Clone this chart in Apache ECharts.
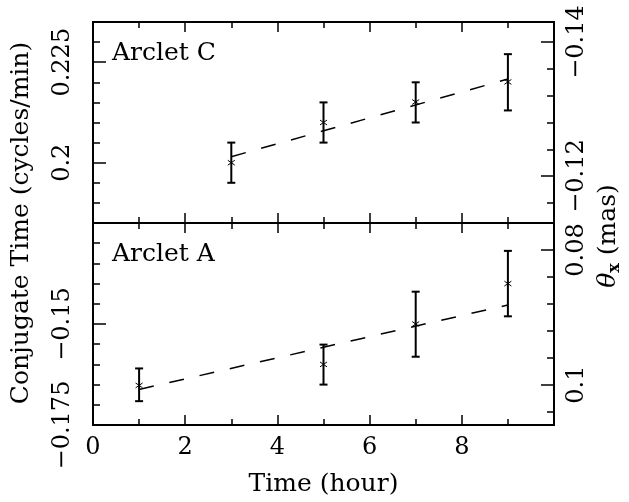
<!DOCTYPE html>
<html><head><meta charset="utf-8">
<script src="https://cdn.jsdelivr.net/npm/echarts@6/dist/echarts.min.js"></script>
<style>html,body{margin:0;padding:0;background:#fff}#c{width:629px;height:502px}</style>
</head><body><div id="c"></div>
<script>
// ---- Data ----
const hoursC = [3, 5, 7, 9];               // Arclet C
const valuesC = [0.2000, 0.2100, 0.2151, 0.2201];
const lowC = [0.1950, 0.2050, 0.2100, 0.2130];
const highC = [0.2050, 0.2150, 0.2200, 0.2270];
const fitXC = [3, 9];
const fitYC = [0.2015, 0.2208];

const hoursA = [1, 5, 7, 9];               // Arclet A
const valuesA = [-0.1652, -0.1600, -0.1500, -0.1400];
const lowA = [-0.1691, -0.1650, -0.1581, -0.1481];
const highA = [-0.1610, -0.1551, -0.1420, -0.1319];
const fitXA = [1, 9];
const fitYA = [-0.1662, -0.1453];

// ---- Tick labels ----
const xLabels = [0, 2, 4, 6, 8];
const cLeftMajor = [0.2, 0.225];
const cLeftMinor = [0.19, 0.195, 0.205, 0.21, 0.215, 0.22, 0.23];
const cRightMajor = [-0.14, -0.12];
const cRightMinor = [-0.136, -0.132, -0.128, -0.124, -0.116];
const aLeftMajor = [-0.175, -0.15];
const aLeftMinor = [-0.17, -0.165, -0.16, -0.155, -0.145, -0.14, -0.135, -0.13];
const aRightMajor = [0.08, 0.1];
const aRightMinor = [0.084, 0.088, 0.092, 0.096, 0.104];

const FONT = '"DejaVu Serif", serif';
const BLACK = '#000';
const TICKFS = 24, NAMEFS = 25;
const fmt = v => String(+(+v).toFixed(4)).replace('-', '\u2212');

function xAxisDef(grid, pos, showLabels) {
  return {
    type: 'value', gridIndex: grid, position: pos, min: 0, max: 10, interval: 2,
    axisLine: { show: false },
    axisTick: { show: true, inside: true, length: 10, lineStyle: { color: BLACK, width: 1.5 } },
    minorTick: { show: true, splitNumber: 2, length: 6, lineStyle: { color: BLACK, width: 1.5 } },
    splitLine: { show: false }, minorSplitLine: { show: false },
    axisLabel: showLabels ? { show: true, customValues: xLabels, formatter: fmt, color: BLACK,
      fontFamily: FONT, fontSize: TICKFS, margin: 11 } : { show: false },
    name: showLabels ? 'Time (hour)' : '', nameLocation: 'middle', nameGap: 47,
    nameTextStyle: { fontFamily: FONT, fontSize: NAMEFS, color: BLACK }
  };
}
function yAxisDef(grid, pos, min, max, inverse, ticks, len, labels, margin) {
  return {
    type: 'value', gridIndex: grid, position: pos, min: min, max: max, inverse: inverse,
    axisLine: { show: false },
    axisTick: { show: true, inside: true, length: len, customValues: ticks,
      lineStyle: { color: BLACK, width: 1.5 } },
    splitLine: { show: false },
    axisLabel: labels ? { show: true, customValues: labels, formatter: fmt, rotate: 90,
      color: BLACK, fontFamily: FONT, fontSize: TICKFS, margin: margin } : { show: false }
  };
}
function errSeries(xi, yi, xs, vs, lo, hi) {
  return {
    type: 'custom', xAxisIndex: xi, yAxisIndex: yi, z: 5,
    data: xs.map((x, i) => [x, vs[i], lo[i], hi[i]]),
    encode: { x: 0, y: 1 },
    renderItem: function (params, api) {
      const x = api.value(0);
      const pV = api.coord([x, api.value(1)]);
      const pL = api.coord([x, api.value(2)]);
      const pH = api.coord([x, api.value(3)]);
      const cap = 4, m = 3.5;
      const st = { stroke: BLACK, lineWidth: 2 };
      const sm = { stroke: BLACK, lineWidth: 1 };
      return { type: 'group', children: [
        { type: 'line', shape: { x1: pL[0], y1: pL[1], x2: pH[0], y2: pH[1] }, style: st },
        { type: 'line', shape: { x1: pL[0] - cap, y1: pL[1], x2: pL[0] + cap, y2: pL[1] }, style: st },
        { type: 'line', shape: { x1: pH[0] - cap, y1: pH[1], x2: pH[0] + cap, y2: pH[1] }, style: st },
        { type: 'line', shape: { x1: pV[0] - m, y1: pV[1] - m * 0.7, x2: pV[0] + m, y2: pV[1] + m * 0.7 }, style: sm },
        { type: 'line', shape: { x1: pV[0] - m, y1: pV[1] + m * 0.7, x2: pV[0] + m, y2: pV[1] - m * 0.7 }, style: sm }
      ] };
    }
  };
}
function fitSeries(xi, yi, xs, ys) {
  return {
    type: 'line', xAxisIndex: xi, yAxisIndex: yi, symbol: 'none', silent: true,
    data: xs.map((x, i) => [x, ys[i]]),
    lineStyle: { color: BLACK, width: 1.5, type: [15, 16] }
  };
}

const chart = echarts.init(document.getElementById('c'), null, { renderer: 'canvas' });
chart.setOption({
  animation: false,
  backgroundColor: '#fff',
  grid: [
    { left: 93, right: 75, top: 22, height: 201, show: true, borderColor: BLACK, borderWidth: 2, backgroundColor: 'transparent' },
    { left: 93, right: 75, top: 223, height: 202, show: true, borderColor: BLACK, borderWidth: 2, backgroundColor: 'transparent' }
  ],
  xAxis: [
    xAxisDef(0, 'bottom', false),
    xAxisDef(0, 'top', false),
    xAxisDef(1, 'bottom', true),
    xAxisDef(1, 'top', false)
  ],
  yAxis: [
    yAxisDef(0, 'left', 0.185, 0.235, false, cLeftMajor, 13, cLeftMajor, 18),
    yAxisDef(0, 'left', 0.185, 0.235, false, cLeftMinor, 7, null),
    yAxisDef(0, 'right', -0.143, -0.113, true, cRightMajor, 13, cRightMajor, 11),
    yAxisDef(0, 'right', -0.143, -0.113, true, cRightMinor, 7, null),
    yAxisDef(1, 'left', -0.175, -0.125, false, aLeftMajor, 13, aLeftMajor, 18),
    yAxisDef(1, 'left', -0.175, -0.125, false, aLeftMinor, 7, null),
    yAxisDef(1, 'right', 0.076, 0.106, true, aRightMajor, 13, aRightMajor, 11),
    yAxisDef(1, 'right', 0.076, 0.106, true, aRightMinor, 7, null)
  ],
  series: [
    fitSeries(0, 0, fitXC, fitYC),
    errSeries(0, 0, hoursC, valuesC, lowC, highC),
    fitSeries(2, 4, fitXA, fitYA),
    errSeries(2, 4, hoursA, valuesA, lowA, highA)
  ],
  graphic: [
    { type: 'text', x: 112, y: 53, style: { text: 'Arclet C', fontFamily: FONT, fontSize: NAMEFS, fill: BLACK, align: 'left', verticalAlign: 'middle' } },
    { type: 'text', x: 112, y: 254, style: { text: 'Arclet A', fontFamily: FONT, fontSize: NAMEFS, fill: BLACK, align: 'left', verticalAlign: 'middle' } },
    { type: 'text', x: 21, y: 223, rotation: Math.PI / 2,
      style: { text: 'Conjugate Time (cycles/min)', fontFamily: FONT, fontSize: NAMEFS, fill: BLACK, align: 'center', verticalAlign: 'middle' } },
    { type: 'text', x: 608, y: 236, rotation: Math.PI / 2,
      style: { text: '{t|\u03B8}{s|x} (mas)', fontFamily: FONT, fontSize: NAMEFS, fill: BLACK, align: 'center', verticalAlign: 'middle',
        rich: { t: { fontFamily: FONT, fontSize: NAMEFS, fontStyle: 'italic' },
                s: { fontFamily: FONT, fontSize: 16, fontWeight: 'bold', padding: [13, 0, 0, 0] } } } }
  ]
});
</script></body></html>
